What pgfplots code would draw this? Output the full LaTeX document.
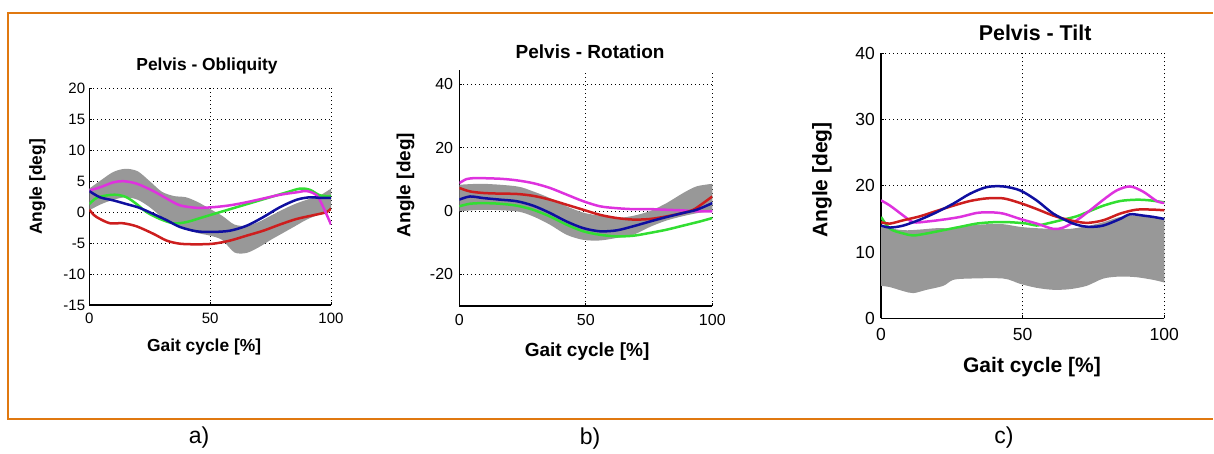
\documentclass[border=0pt]{standalone}
\usepackage{fontspec}
\setmainfont{Liberation Sans}
\usepackage{pgfplots}
\pgfplotsset{compat=1.18}
\usepgfplotslibrary{fillbetween}
\definecolor{frameorange}{RGB}{224,120,16}
\definecolor{bandgray}{RGB}{152,152,152}
\definecolor{cred}{RGB}{205,30,30}
\definecolor{cmag}{RGB}{222,50,222}
\definecolor{cgreen}{RGB}{50,222,50}
\definecolor{cblue}{RGB}{15,15,160}
\pgfplotsset{
  matlab/.style={
    scale only axis,
    axis x line*=bottom, axis y line*=left,
    xmin=0, xmax=100, xtick={0,50,100},
    grid=major,
    grid style={black, line width=0.8bp, dash pattern=on 1bp off 3bp},
    tick align=inside, major tick length=3bp,
    axis line style={black, line width=1.1bp},
    tick style={black, line width=0.8bp},
    /pgf/number format/assume math mode=true,
    every axis title shift=0pt,
    title style={anchor=center},
    xlabel style={anchor=center},
    ylabel style={anchor=center},
    every axis plot/.append style={line width=2.5bp},
  },
  band/.style={draw=none, forget plot},
}
\begin{document}
\begin{tikzpicture}
\path (0,0) rectangle (1214bp,452bp);
% frame
\draw[frameorange, line width=2bp] (1213bp,439bp) -- (8.4bp,439bp) -- (8.4bp,32.5bp) -- (1213bp,32.5bp);

% ---------- a) Obliquity
\begin{axis}[matlab,
  at={(89.3bp,147bp)}, anchor=south west,
  width=241.7bp, height=216.7bp,
  ymin=-15, ymax=20, ytick={-15,-10,-5,0,5,10,15,20},
  ticklabel style={font=\fontsize{15bp}{17bp}\selectfont},
  xticklabel style={anchor=center, inner sep=0pt, yshift=-13bp},
  yticklabel style={anchor=east, inner sep=0pt, xshift=-4bp},
  title={Pelvis - Obliquity},
  title style={at={(0.487,1.103)}, font=\bfseries\fontsize{17.4bp}{20bp}\selectfont},
  xlabel={Gait cycle [\%]},
  xlabel style={at={(0.475,-0.194)}, font=\bfseries\fontsize{17.4bp}{20bp}\selectfont},
  ylabel={Angle [deg]},
  ylabel style={at={(-0.215,0.545)}, font=\bfseries\fontsize{17.4bp}{20bp}\selectfont},
]
\addplot[band, name path=aU, smooth] coordinates {(0,3.8)(5,5.2)(10,6.5)(15,7.0)(20,6.6)(25,5.0)(30,3.3)(35,2.6)(40,2.4)(45,1.6)(50,0.5)(55,-0.6)(60,-2.0)(65,-2.2)(70,-1.6)(75,-0.6)(80,0.4)(85,1.3)(90,2.0)(95,2.6)(100,3.8)};
\addplot[band, name path=aL, smooth] coordinates {(0,0.3)(5,1.3)(10,2.0)(15,2.4)(20,2.0)(25,0.8)(30,-0.8)(35,-2.0)(40,-2.8)(45,-3.4)(50,-3.8)(55,-4.5)(60,-6.5)(65,-6.6)(70,-5.7)(75,-4.5)(80,-3.4)(85,-2.3)(90,-1.2)(95,-0.4)(100,0.3)};
\addplot[bandgray, forget plot] fill between[of=aU and aL];
\addplot[cgreen, smooth] coordinates {(0,1.3)(3,2.3)(7.2,2.7)(11.3,2.8)(15.4,2.4)(19.6,1.3)(23.7,0)(29.2,-1.1)(34.8,-1.8)(40.3,-1.6)(47.2,-0.8)(54.1,0)(61,0.8)(67.9,1.6)(74.8,2.4)(81.7,3.2)(87.2,3.8)(91.3,3.6)(95.5,2.7)(100,2.6)};
\addplot[cred, smooth] coordinates {(0,0.4)(2,-0.5)(4.4,-1.1)(8.6,-1.8)(14,-1.8)(19.6,-2.3)(26.5,-3.5)(32,-4.6)(37.5,-5.1)(44.4,-5.2)(51.3,-5.1)(58.2,-4.6)(65.1,-3.8)(72,-3.0)(78.9,-2.0)(85.8,-1.1)(92.7,-0.5)(98.2,0)(100,0.6)};
\addplot[cmag, smooth] coordinates {(0,3.5)(4.4,4.0)(9.9,4.8)(14,5.0)(19.6,4.6)(26.5,3.4)(32,2.2)(37.5,1.1)(44.4,0.7)(51.3,0.8)(58.2,1.1)(65.1,1.6)(72,2.2)(78.9,2.8)(85.8,3.2)(90,3.4)(94.1,2.7)(96.8,0.8)(100,-2.0)};
\addplot[cblue, smooth] coordinates {(0,3.4)(4.4,2.4)(9.9,1.9)(15.4,1.3)(20.7,0.7)(26.5,-0.3)(32,-1.3)(37.5,-2.4)(44.4,-3.1)(51.3,-3.2)(58.2,-3.0)(65.1,-2.2)(72,-0.8)(78.9,0.8)(85.8,2.0)(91.3,2.4)(95.5,2.3)(100,2.3)};
\end{axis}

% ---------- b) Rotation
\begin{axis}[matlab,
  at={(459.3bp,146bp)}, anchor=south west,
  width=253bp, height=235.8bp,
  ymin=-30, ymax=44.5, ytick={-20,0,20,40},
  ticklabel style={font=\fontsize{16bp}{18bp}\selectfont},
  xticklabel style={anchor=center, inner sep=0pt, yshift=-14bp},
  yticklabel style={anchor=east, inner sep=0pt, xshift=-6bp},
  title={Pelvis - Rotation},
  title style={at={(0.517,1.077)}, font=\bfseries\fontsize{19bp}{22bp}\selectfont},
  xlabel={Gait cycle [\%]},
  xlabel style={at={(0.505,-0.195)}, font=\bfseries\fontsize{19bp}{22bp}\selectfont},
  ylabel={Angle [deg]},
  ylabel style={at={(-0.213,0.513)}, font=\bfseries\fontsize{19bp}{22bp}\selectfont},
]
\addplot[band, name path=bU, smooth] coordinates {(0,8.3)(9.5,8.6)(22.7,7.8)(29.2,6.2)(35.8,4.1)(42.4,1.5)(49,-0.5)(55.6,-1.5)(62.2,-2.2)(68.8,-1.5)(75.4,0)(81.9,2.5)(88.5,5.7)(93.8,7.8)(100,8.6)};
\addplot[band, name path=bL, smooth] coordinates {(0,-0.1)(9.5,0.4)(22.7,-0.1)(29.2,-1.7)(35.8,-4.3)(42.4,-7.5)(49,-9.1)(55.6,-9.3)(62.2,-8.5)(68.8,-7.5)(75.4,-5.0)(81.9,-3.0)(88.5,-1.6)(95.1,-0.5)(100,0)};
\addplot[bandgray, forget plot] fill between[of=bU and bL];
\addplot[cgreen, smooth] coordinates {(0,1.5)(4.2,2.3)(9.5,2.5)(16.1,2.3)(22.7,1.7)(29.2,0.4)(35.8,-1.7)(42.4,-4.3)(49,-6.4)(55.6,-7.5)(62.2,-8.0)(68.8,-7.8)(75.4,-6.9)(81.9,-5.9)(88.5,-4.6)(95.1,-3.3)(100,-2.2)};
\addplot[cmag, smooth] coordinates {(0,8.8)(2.9,10.1)(6.9,10.4)(16.1,10.2)(22.7,9.7)(29.2,8.8)(35.8,7.3)(42.4,5.2)(49,3.1)(55.6,1.5)(62.2,0.9)(68.8,0.6)(75.4,0.6)(81.9,0.4)(88.5,0.2)(93.8,-0.1)(100,-0.1)};
\addplot[cred, smooth] coordinates {(0,7.3)(4.2,6.2)(9.5,5.7)(16.1,5.5)(22.7,5.4)(29.2,4.8)(35.8,3.6)(42.4,2.0)(49,0.4)(55.6,-1.2)(62.2,-2.2)(68.8,-2.7)(75.4,-2.5)(81.9,-1.7)(88.5,-0.6)(92.5,0.4)(96.4,2.5)(100,4.6)};
\addplot[cblue, smooth] coordinates {(0,3.6)(4.2,4.6)(9.5,4.1)(16.1,3.6)(22.7,3.1)(29.2,1.7)(35.8,-0.6)(42.4,-3.3)(49,-5.4)(55.6,-6.4)(62.2,-6.1)(68.8,-4.8)(75.4,-3.3)(81.9,-1.9)(88.5,-0.6)(93.8,0.4)(100,2.5)};
\end{axis}

% ---------- c) Tilt
\begin{axis}[matlab,
  at={(881bp,133.7bp)}, anchor=south west,
  width=283.3bp, height=265bp,
  ymin=0, ymax=40, ytick={0,10,20,30,40},
  ticklabel style={font=\fontsize{17.5bp}{20bp}\selectfont},
  xticklabel style={anchor=center, inner sep=0pt, yshift=-16bp},
  yticklabel style={anchor=east, inner sep=0pt, xshift=-6bp},
  title={Pelvis - Tilt},
  title style={at={(0.544,1.078)}, font=\bfseries\fontsize{21.4bp}{24bp}\selectfont},
  xlabel={Gait cycle [\%]},
  xlabel style={at={(0.533,-0.184)}, font=\bfseries\fontsize{21bp}{24bp}\selectfont},
  ylabel={Angle [deg]},
  ylabel style={at={(-0.208,0.522)}, font=\bfseries\fontsize{21bp}{24bp}\selectfont},
]
\addplot[band, name path=cU, smooth] coordinates {(0,13.8)(7.9,13.3)(13.8,13.4)(19.6,13.6)(25.5,13.6)(31.4,14.0)(37.3,14.2)(43.2,14.2)(49.1,13.8)(54.9,13.6)(60.8,13.5)(66.7,13.5)(72.6,13.9)(78.5,14.5)(84.4,15.3)(90.2,15.5)(96.1,15.4)(100,15.0)};
\addplot[band, name path=cL, smooth] coordinates {(0,4.9)(3.2,4.7)(7.9,4.1)(11.4,3.8)(16.1,4.3)(22,4.9)(25.5,5.8)(31.4,6.0)(43.2,6.0)(49.1,5.2)(54.9,4.6)(60.8,4.3)(66.7,4.4)(72.6,4.9)(78.5,6.0)(84.4,6.3)(90.2,6.2)(96.1,5.8)(100,5.4)};
\addplot[bandgray, forget plot] fill between[of=cU and cL];
\addplot[cgreen, smooth] coordinates {(0,15.3)(3.2,13.5)(7.9,12.8)(11.4,12.5)(16.1,12.8)(22,13.3)(27.9,13.8)(33.8,14.3)(39.6,14.5)(45.5,14.5)(51.4,14.3)(54.9,14.0)(59.6,14.4)(64.4,14.9)(69.1,15.4)(73.8,16.2)(78.5,17.0)(84.4,17.7)(90.2,17.9)(94.9,17.8)(100,17.5)};
\addplot[cmag, smooth] coordinates {(0,17.8)(3.2,17.0)(7.9,15.5)(11.4,14.5)(16.1,14.6)(22,14.9)(27.9,15.3)(33.8,15.9)(38.5,16.0)(43.2,15.8)(49.1,15.0)(54.9,14.3)(60.8,13.5)(64.4,13.7)(69.1,14.8)(73.8,16.3)(78.5,17.9)(83.2,19.3)(87.9,19.9)(92.6,19.1)(97.3,17.7)(100,17.4)};
\addplot[cred, smooth] coordinates {(0,14.5)(3.2,14.3)(7.9,14.8)(13.8,15.4)(19.6,16.2)(25.5,17.0)(31.4,17.7)(37.3,18.1)(43.2,18.1)(49.1,17.4)(54.9,16.5)(60.8,15.5)(66.7,14.8)(72.6,14.4)(78.5,14.8)(84.4,15.8)(90.2,16.4)(96.1,16.4)(100,16.3)};
\addplot[cblue, smooth] coordinates {(0,14.0)(3.2,13.7)(7.9,14.0)(13.8,14.9)(19.6,16.0)(25.5,17.3)(31.4,18.8)(37.3,19.8)(43.2,19.9)(49.1,19.3)(54.9,17.8)(60.8,15.8)(66.7,14.5)(70.2,14.0)(73.8,13.8)(78.5,14.0)(84.4,15.0)(87.9,15.7)(92.6,15.5)(96.1,15.3)(100,15.0)};
\end{axis}

% sub-figure letters
\node[font=\fontsize{23bp}{26bp}\selectfont] at (199bp,14bp) {a)};
\node[font=\fontsize{23bp}{26bp}\selectfont] at (590bp,13bp) {b)};
\node[font=\fontsize{23bp}{26bp}\selectfont] at (1004bp,14bp) {c)};
\end{tikzpicture}
\end{document}
